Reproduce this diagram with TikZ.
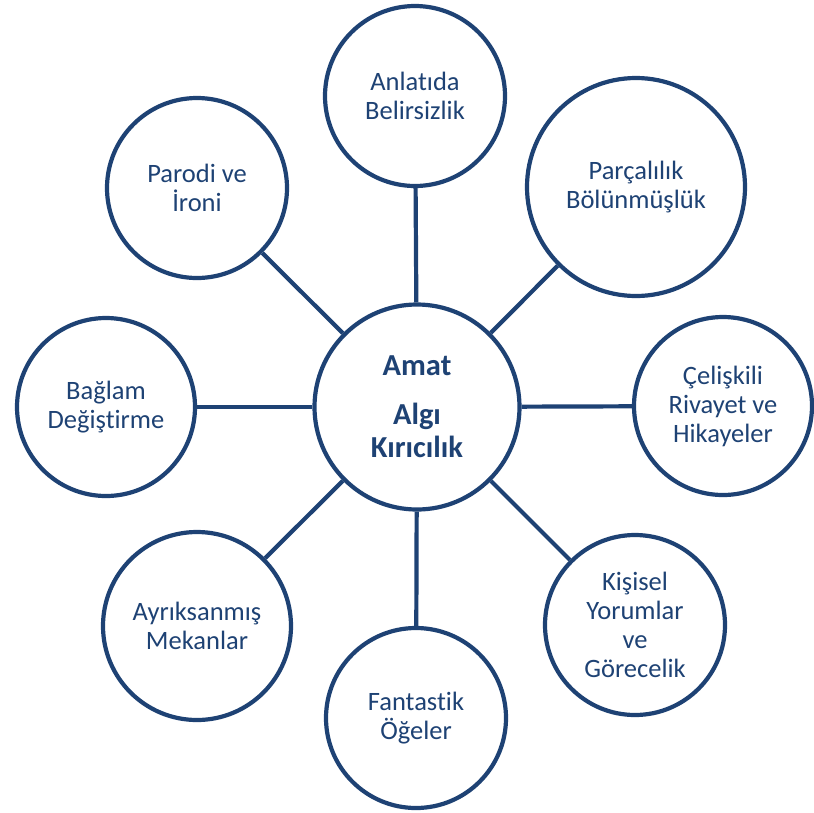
\documentclass[tikz,border=0pt]{standalone}
\usepackage{fontspec}
\setmainfont{Carlito}[Ligatures=NoCommon]
\usepackage{xcolor}
\usepackage{tikz}
\usetikzlibrary{positioning}
\definecolor{AmatBlue}{RGB}{30, 66, 116}

\tikzset{
  konu/.style={circle, draw=AmatBlue, line width=4.2pt, fill=white, text=AmatBlue,
        align=center, inner sep=0pt,
        font=\fontsize{26.5}{29}\selectfont},
  bag/.style={draw=AmatBlue, line width=4.2pt}
}

\begin{document}
\begin{tikzpicture}[x=1pt, y=-1pt]
  \useasboundingbox (0,0) rectangle (814,812);

  % merkez
  \node[konu, minimum size=205pt, font=\fontsize{30.5}{33}\selectfont\bfseries] (amat) at (417,407) {Amat\\[16pt]Algı\\Kırıcılık};

  % dis halkalar
  \node[konu, minimum size=180pt] (belirsiz) at (415,96) {Anlatıda\\Belirsizlik};
  \node[konu, minimum size=218pt] (parca) at (636,187) {Parçalılık\\Bölünmüşlük};
  \node[konu, minimum size=178pt] (celiski) at (723,406) {Çelişkili\\Rivayet ve\\Hikayeler};
  \node[konu, minimum size=180pt] (yorum) at (635,625) {Kişisel\\Yorumlar\\ve\\Görecelik};
  \node[konu, minimum size=180pt] (fantastik) at (416,718) {Fantastik\\Öğeler};
  \node[konu, minimum size=188pt] (mekan) at (197,626) {Ayrıksanmış\\Mekanlar};
  \node[konu, minimum size=178pt] (baglam) at (106,407) {Bağlam\\Değiştirme};
  \node[konu, minimum size=180pt] (parodi) at (197,188) {Parodi ve\\İroni};

  \foreach \n in {belirsiz, parca, celiski, yorum, fantastik, mekan, baglam, parodi}
    \draw[bag] (amat) -- (\n);
\end{tikzpicture}
\end{document}
